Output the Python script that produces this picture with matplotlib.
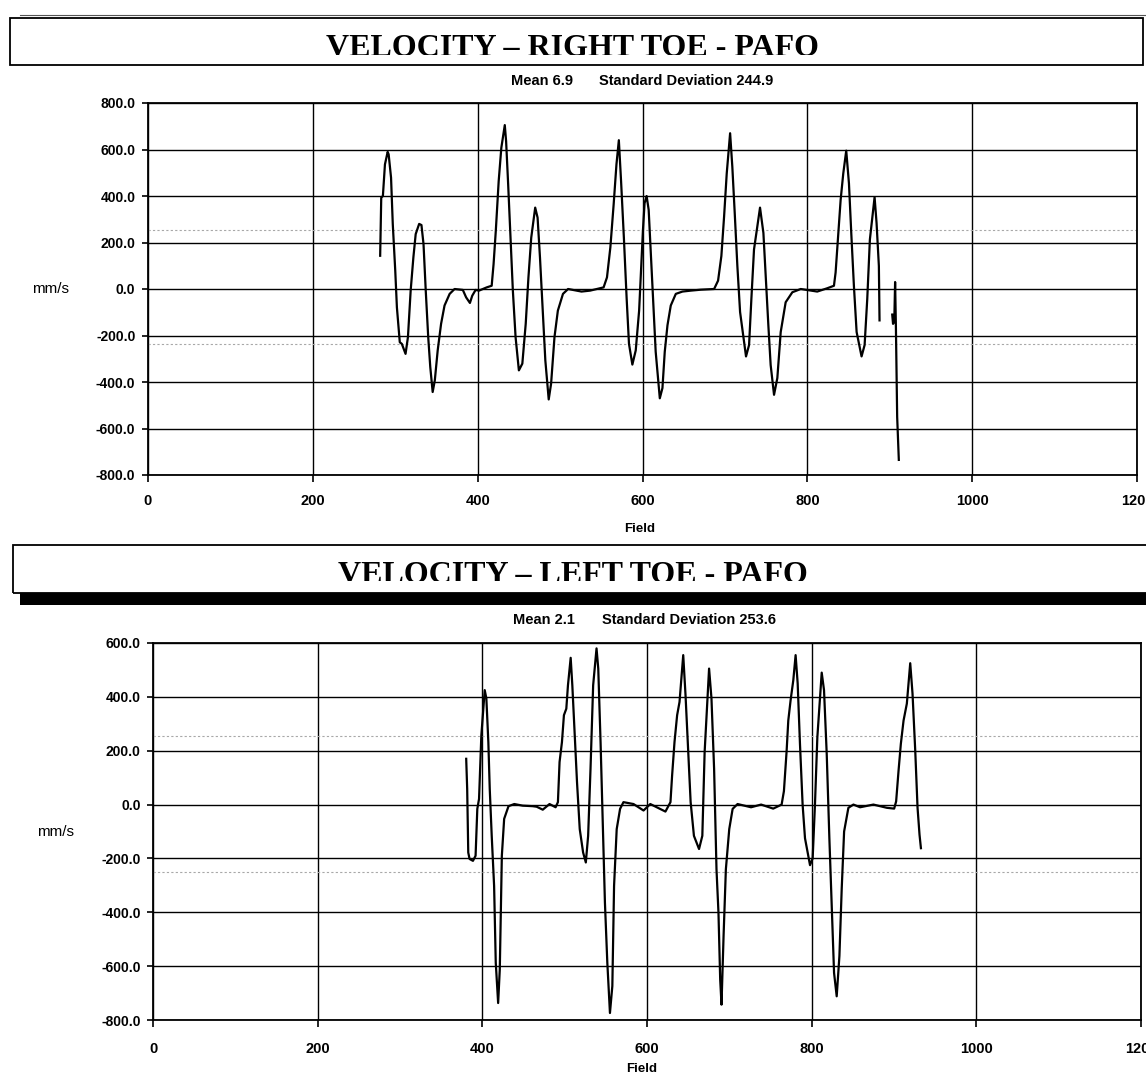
import numpy as np
import matplotlib
matplotlib.use("Agg")
import matplotlib.pyplot as plt
from matplotlib.patches import Rectangle
from matplotlib.ticker import FuncFormatter

# ---------------- data ----------------
x_ticks = [0, 200, 400, 600, 800, 1000, 1200]

right_title = "VELOCITY \u2013 RIGHT TOE - PAFO"
right_mean = 6.9
right_sd = 244.9
right_field = [
    281.7, 283, 285, 287.5, 290.8, 292, 294.9, 297, 300, 302, 305.5, 308, 312.5,
    315.4, 318.7, 322, 324.8, 329, 331.8, 334.3, 337, 340, 342.5, 345.4, 348,
    351.5, 355.6, 359.8, 366, 372, 382, 386, 390.6, 393.4, 397.5, 401.6, 411,
    417, 419.3, 422, 425.5, 428.7, 432.9, 434.5, 437, 439.8, 442.7, 446, 450,
    454.2, 458.3, 461.6, 465, 469.8, 472.7, 475.6, 478.9, 482.1, 486.2, 489.1,
    493.2, 497.3, 503.5, 509.7, 526, 536.4, 552.8, 556.9, 561, 565, 568.4,
    571.3, 574, 577.4, 580.7, 583.6, 587.7, 591.8, 595.9, 598.5, 600.5, 602.5,
    605, 607.5, 610.5, 613.3, 616, 621, 624.2, 627, 630.3, 634.3, 640.4, 648.5,
    658.6, 670.7, 686.9, 691.7, 695.7, 699, 702.2, 706.3, 709, 711.9, 715.1,
    718.4, 725.6, 729.3, 732.1, 735.3, 742.6, 746.7, 749.5, 752.7, 755.5,
    759.6, 763.6, 767.7, 773.7, 781.8, 792, 812, 824, 832.3, 834.3, 837.1,
    840.4, 843.6, 847.2, 850.5, 853.3, 856.5, 859.8, 865.8, 869.5, 872.7,
    875.9, 881.6, 884, 886.8, 887.6, np.nan, 903, 904, 905.5, 906.5, 907.5,
    909, 911,
]
right_velocity = [
    143, 393, 400, 536, 590, 579, 479, 279, 79, -79, -229, -236, -279,
    -207, -7, 136, 236, 280, 275, 193, -7, -207, -336, -443, -393,
    -264, -150, -71, -21, 0, -4, -36, -60, -29, -4, -7, 7,
    14, 107, 250, 464, 607, 705, 636, 450, 221, -7, -207, -350,
    -321, -150, 50, 221, 350, 307, 136, -93, -307, -475, -407,
    -207, -93, -21, 0, -11, -7, 7, 50, 179, 364, 536,
    640, 464, 221, -36, -236, -325, -264, -93, 100, 250, 369,
    400, 340, 128, -71, -270, -470, -426, -270, -156, -71, -21, -11,
    -7, -3, 0, 36, 142, 312, 497, 670, 525, 327, 99,
    -99, -290, -241, -43, 170, 350, 241, 57, -156, -327,
    -455, -383, -185, -57, -14, 0, -11, 3, 14, 71, 213,
    383, 497, 595, 454, 241, 14, -185, -290, -241, -43,
    213, 395, 284, 99, -135, np.nan, -110, -150, -140, 30, -170,
    -550, -735,
]

left_title = "VELOCITY \u2013 LEFT TOE - PAFO"
left_mean = 2.1
left_sd = 253.6
left_field = [
    380.4, 381.6, 382.9, 384.5, 388.6, 391.8, 393.9, 396, 398.8, 402.9, 404.9,
    407.3, 409, 411.4, 414.3, 416.3, 419.2, 421.2, 423.7, 426.5, 431.8, 438.8,
    449, 461.2, 466, 473.4, 481.6, 489, 491.8, 493.8, 496.7, 499.1, 502, 504,
    507.3, 509.3, 512.2, 515, 518.3, 522.4, 525.7, 528.5, 531.4, 534.6, 538.7,
    540.8, 543.6, 546.1, 548.9, 551.8, 555, 557.9, 560, 563.2, 567.3, 571.4,
    583.6, 595.8, 604, 622.4, 628.5, 630.5, 633.4, 636.6, 639.5, 644, 646.8,
    649.7, 653, 657, 663.2, 667.2, 670, 675.4, 678.3, 681.5, 684.4, 686.8,
    688.9, 690.5, 693, 695.8, 699.9, 704, 710, 726.4, 738.6, 753.3, 763.5,
    766.3, 769.6, 771.6, 774.4, 777.7, 780.5, 783, 785.8, 789, 791.9, 798,
    801.2, 804, 806.9, 812.2, 815, 818.3, 821.5, 824.3, 827.2, 830.4, 833.7,
    836.5, 839.4, 844.6, 850.7, 858.8, 875, 891.3, 900.2, 902.6, 905.5, 908.3,
    911.6, 915.6, 919.7, 922.5, 925.8, 928.6, 931, 932.7,
]
left_velocity = [
    170, 58, -178, -202, -209, -190, -16, 21, 257, 425, 394,
    232, 58, -116, -302, -587, -737, -612, -190, -53, -6, 2,
    -4, -6, -8, -19, 2, -10, 9, 158, 232, 332, 356, 443,
    545, 443, 257, 83, -91, -178, -215, -116, 133, 443, 580,
    505, 232, -53, -364, -587, -774, -674, -302, -91, -16, 9,
    2, -22, 2, -26, 9, 108, 232, 332, 381, 555, 406,
    220, 9, -116, -165, -116, 195, 505, 394, 133, -240, -401,
    -650, -743, -488, -240, -91, -16, 2, -10, 0, -15, 0,
    50, 200, 312, 387, 462, 555, 450, 225, 0, -125, -225,
    -200, 0, 250, 490, 425, 187, -125, -375, -625, -712, -562,
    -312, -100, -12, 0, -10, 0, -12, -15, 12, 125, 225,
    312, 375, 525, 412, 200, -12, -112, -162,
]

# ---------------- figure ----------------
W, H = 1146, 1082
fig = plt.figure(figsize=(W / 100, H / 100), dpi=100)
fig.patch.set_facecolor("white")

SANS = ["Liberation Sans", "DejaVu Sans"]


def fx(px):
    return px / W


def fy(py):
    return 1 - py / H


def header(x0, x1, y0, y1, title, baseline, cut, mean, sd, sub_y, mean_x, sd_x,
           bar=None):
    # framed title banner
    fig.add_artist(Rectangle((fx(x0), fy(y1)), fx(x1) - fx(x0), fy(y0) - fy(y1),
                             transform=fig.transFigure, fill=False,
                             ec="black", lw=1.3, zorder=6))
    fig.text(fx(573), fy(baseline), title, ha="center", va="baseline",
             family=["Liberation Serif", "DejaVu Serif"], fontweight="bold",
             fontsize=23, zorder=3)
    # lower edge of the lettering is lost under the banner
    fig.add_artist(Rectangle((fx(x0 + 2), fy(y1 - 1)), fx(x1 - 2) - fx(x0 + 2),
                             fy(cut) - fy(y1 - 1), transform=fig.transFigure,
                             fc="white", ec="none", zorder=5))
    if bar is not None:
        bx0, bx1, by0, by1 = bar
        fig.add_artist(Rectangle((fx(bx0), fy(by1)), fx(bx1) - fx(bx0),
                                 fy(by0) - fy(by1), transform=fig.transFigure,
                                 fc="black", ec="none", zorder=6))
    fig.text(fx(mean_x), fy(sub_y), f"Mean {mean:.1f}", ha="left", va="center",
             family=SANS, fontsize=10.5, fontweight="bold")
    fig.text(fx(sd_x), fy(sub_y), f"Standard Deviation {sd:.1f}", ha="left",
             va="center", family=SANS, fontsize=10.5, fontweight="bold")


def draw(ax_rect, ylim, field, vel, mean, sd, xpad, field_pos, ylab_pos):
    left, top, right, bottom = ax_rect
    ax = fig.add_axes([fx(left), fy(bottom), fx(right) - fx(left),
                       fy(top) - fy(bottom)])
    ax.set_xlim(0, 1200)
    ax.set_ylim(*ylim)
    ax.set_xticks(x_ticks)
    ax.set_yticks(np.arange(ylim[0], ylim[1] + 1, 200))
    ax.yaxis.set_major_formatter(FuncFormatter(lambda v, p: f"{v:.1f}"))
    ax.grid(True, color="black", lw=1.0)
    ax.set_axisbelow(True)
    for s in ax.spines.values():
        s.set_linewidth(1.3)
    # mean +/- one standard deviation
    ax.axhline(mean + sd, color="#a8a8a8", lw=0.8, ls=(0, (2, 2)))
    ax.axhline(mean - sd, color="#a8a8a8", lw=0.8, ls=(0, (2, 2)))
    ax.plot(field, vel, color="black", lw=1.6, zorder=4)
    ax.tick_params(axis="x", direction="out", length=5, width=1.2, pad=xpad,
                   labelsize=10.5)
    ax.tick_params(axis="y", direction="out", length=4, width=1.2, pad=5,
                   labelsize=10)
    for lab in ax.get_xticklabels() + ax.get_yticklabels():
        lab.set_family(SANS)
        lab.set_fontweight("bold")
    ax.set_xlabel("Field", family=SANS, fontsize=9.5, fontweight="bold")
    ax.xaxis.set_label_coords(*field_pos)
    ax.xaxis.label.set_va("center")
    ax.set_ylabel("mm/s", family=SANS, fontsize=11, rotation=0)
    ax.yaxis.set_label_coords(*ylab_pos)
    ax.yaxis.label.set_va("center")
    ax.yaxis.label.set_ha("center")
    return ax


# right toe
header(10, 1143, 18, 65, right_title, 56, 54.5, right_mean, right_sd,
       81, 511, 599)
fig.add_artist(plt.Line2D([fx(20), fx(1146)], [fy(15), fy(15)],
                          transform=fig.transFigure, color="#555555", lw=0.8))
draw((148, 103, 1137, 475), (-800, 800), right_field, right_velocity,
     right_mean, right_sd, 8.5,
     ((640 - 148) / 989, -(529 - 475) / 372), ((51 - 148) / 989, 0.5))

# left toe
header(13, 1152, 545, 593, left_title, 583, 581, left_mean, left_sd,
       620, 513, 602, bar=(20, 1146, 593, 605))
draw((153, 643, 1141, 1020), (-800, 600), left_field, left_velocity,
     left_mean, left_sd, 10.5,
     ((642 - 153) / 988, -(1069 - 1020) / 377), ((56 - 153) / 988, 0.5))

fig.savefig("out.png", dpi=100, facecolor="white")
